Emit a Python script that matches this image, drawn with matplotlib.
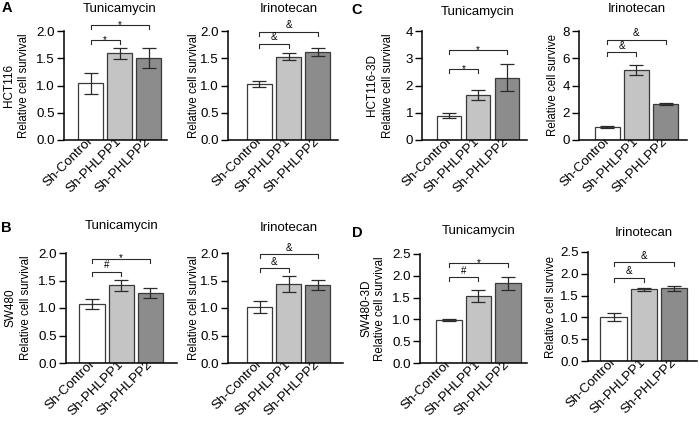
import matplotlib
matplotlib.use("Agg")
import matplotlib.pyplot as plt
import matplotlib.transforms as mtransforms

plt.rcParams['font.family'] = ['Liberation Sans', 'DejaVu Sans']

groups = ['Sh-Control', 'Sh-PHLPP1', 'Sh-PHLPP2']
bar_colors = ['#ffffff', '#c4c4c4', '#8c8c8c']

# values
a_tun_mean = [1.04, 1.59, 1.50]
a_tun_err = [0.19, 0.10, 0.18]
a_iri_mean = [1.03, 1.53, 1.61]
a_iri_err = [0.06, 0.06, 0.07]
c_tun_mean = [0.89, 1.65, 2.29]
c_tun_err = [0.10, 0.20, 0.51]
c_iri_mean = [0.93, 5.12, 2.63]
c_iri_err = [0.07, 0.37, 0.06]
b_tun_mean = [1.07, 1.41, 1.27]
b_tun_err = [0.09, 0.10, 0.09]
b_iri_mean = [1.02, 1.44, 1.42]
b_iri_err = [0.11, 0.14, 0.09]
d_tun_mean = [0.99, 1.54, 1.83]
d_tun_err = [0.03, 0.14, 0.15]
d_iri_mean = [1.01, 1.64, 1.67]
d_iri_err = [0.10, 0.04, 0.06]

a_tun_sig = ['*', '*']
a_iri_sig = ['&', '&']
c_tun_sig = ['*', '*']
c_iri_sig = ['&', '&']
b_tun_sig = ['#', '*']
b_iri_sig = ['&', '&']
d_tun_sig = ['#', '*']
d_iri_sig = ['&', '&']

W, H = 699, 424
fig = plt.figure(figsize=(W / 100, H / 100), dpi=100)


def fx(x):
    return x / W


def fy(y):
    return 1 - y / H


def panel(left, right, ytop, ybot, xlim, ymax, step, mean, err, sig, brk,
          title, title_y, ylab, ylab_x, outer=None, outer_x=None, fmt='{:.1f}'):
    ax = fig.add_axes([fx(left), fy(ybot), (right - left) / W, (ybot - ytop) / H])
    x = range(len(groups))
    ax.bar(x, mean, width=0.86, color=bar_colors, edgecolor='#3a3a3a', linewidth=0.9, zorder=2)
    ax.errorbar(x, mean, yerr=err, fmt='none', ecolor='#2a2a2a', elinewidth=0.9,
                capsize=5, capthick=0.9, zorder=3)
    ax.set_xlim(xlim)
    ax.set_ylim(0, ymax)
    ticks = [i * step for i in range(int(round(ymax / step)) + 1)]
    ax.set_yticks(ticks)
    ax.set_yticklabels([fmt.format(t) for t in ticks], fontsize=9.6)
    ax.set_xticks(list(x))
    ax.set_xticklabels(groups, rotation=45, ha='right', va='center',
                       rotation_mode='anchor', fontsize=9.6)
    off = mtransforms.ScaledTranslation(4 / 100, -9 / 100, fig.dpi_scale_trans)
    for lab in ax.get_xticklabels():
        lab.set_transform(lab.get_transform() + off)
    ax.tick_params(axis='x', length=0, pad=0)
    ax.tick_params(axis='y', length=5, width=1.0, pad=1.5)
    for s in ['top', 'right']:
        ax.spines[s].set_visible(False)
    for s in ['left', 'bottom']:
        ax.spines[s].set_linewidth(1.1)
    ax.patch.set_alpha(0)
    # significance brackets
    d = ymax * 4 / (ybot - ytop)
    for (x1, yb), s in zip([(1, brk[0]), (2, brk[1])], sig):
        ax.plot([0, 0, x1, x1], [yb - d, yb, yb, yb - d], color='#2a2a2a',
                lw=0.8, clip_on=False)
        dy = -2.2 if s == '*' else 2.5
        ax.annotate(s, xy=(x1 / 2, yb), xytext=(0, dy), textcoords='offset points',
                    ha='center', va='baseline', fontsize=7, annotation_clip=False)
    tx = ax.transData.transform((1, 0))[0]
    fig.text(tx / W, fy(title_y), title, ha='center', va='center', fontsize=9.5)
    fig.text(fx(ylab_x), fy((ytop + ybot) / 2), ylab, rotation=90,
             ha='center', va='center', fontsize=8.3)
    if outer:
        fig.text(fx(outer_x), fy((ytop + ybot) / 2), outer, rotation=90,
                 ha='center', va='center', fontsize=8.5)
    return ax


panel(64, 167, 31, 140, (-0.92, 2.63), 2.0, 0.5, a_tun_mean, a_tun_err, a_tun_sig,
      (1.84, 2.11), 'Tunicamycin', 9, 'Relative cell survival', 24, 'HCT116', 9)
panel(228, 338, 31, 140, (-1.08, 2.70), 2.0, 0.5, a_iri_mean, a_iri_err, a_iri_sig,
      (1.77, 1.99), 'Irinotecan', 9, 'Relative cell survival', 194)
panel(422, 527, 31, 140, (-0.93, 2.69), 4, 1, c_tun_mean, c_tun_err, c_tun_sig,
      (2.62, 3.29), 'Tunicamycin', 12, 'Relative cell survival', 388, 'HCT116-3D', 372,
      fmt='{:.0f}')
panel(579, 687, 31, 140, (-0.96, 2.73), 8, 2, c_iri_mean, c_iri_err, c_iri_sig,
      (6.46, 7.37), 'Irinotecan', 9, 'Relative cell survive', 553, fmt='{:.0f}')
panel(66, 177, 253, 363, (-0.89, 2.91), 2.0, 0.5, b_tun_mean, b_tun_err, b_tun_sig,
      (1.66, 1.90), 'Tunicamycin', 226, 'Relative cell survival', 26, 'SW480', 11)
panel(228, 343, 253, 363, (-1.08, 2.86), 2.0, 0.5, b_iri_mean, b_iri_err, b_iri_sig,
      (1.72, 1.98), 'Irinotecan', 228, 'Relative cell survival', 194)
panel(420, 527, 254, 363, (-0.98, 2.65), 2.5, 0.5, d_tun_mean, d_tun_err, d_tun_sig,
      (1.97, 2.29), 'Tunicamycin', 231, 'Relative cell survival', 380, 'SW480-3D', 367)
panel(588, 697, 252, 361, (-0.84, 2.75), 2.5, 0.5, d_iri_mean, d_iri_err, d_iri_sig,
      (1.91, 2.27), 'Irinotecan', 233, 'Relative cell survive', 551)

for letter, x, y in [('A', 2, 8), ('B', 1, 228), ('C', 351, 10), ('D', 352, 233)]:
    fig.text(fx(x), fy(y), letter, fontsize=10.5, fontweight='bold', ha='left', va='center')

fig.savefig('out.png', dpi=100)
